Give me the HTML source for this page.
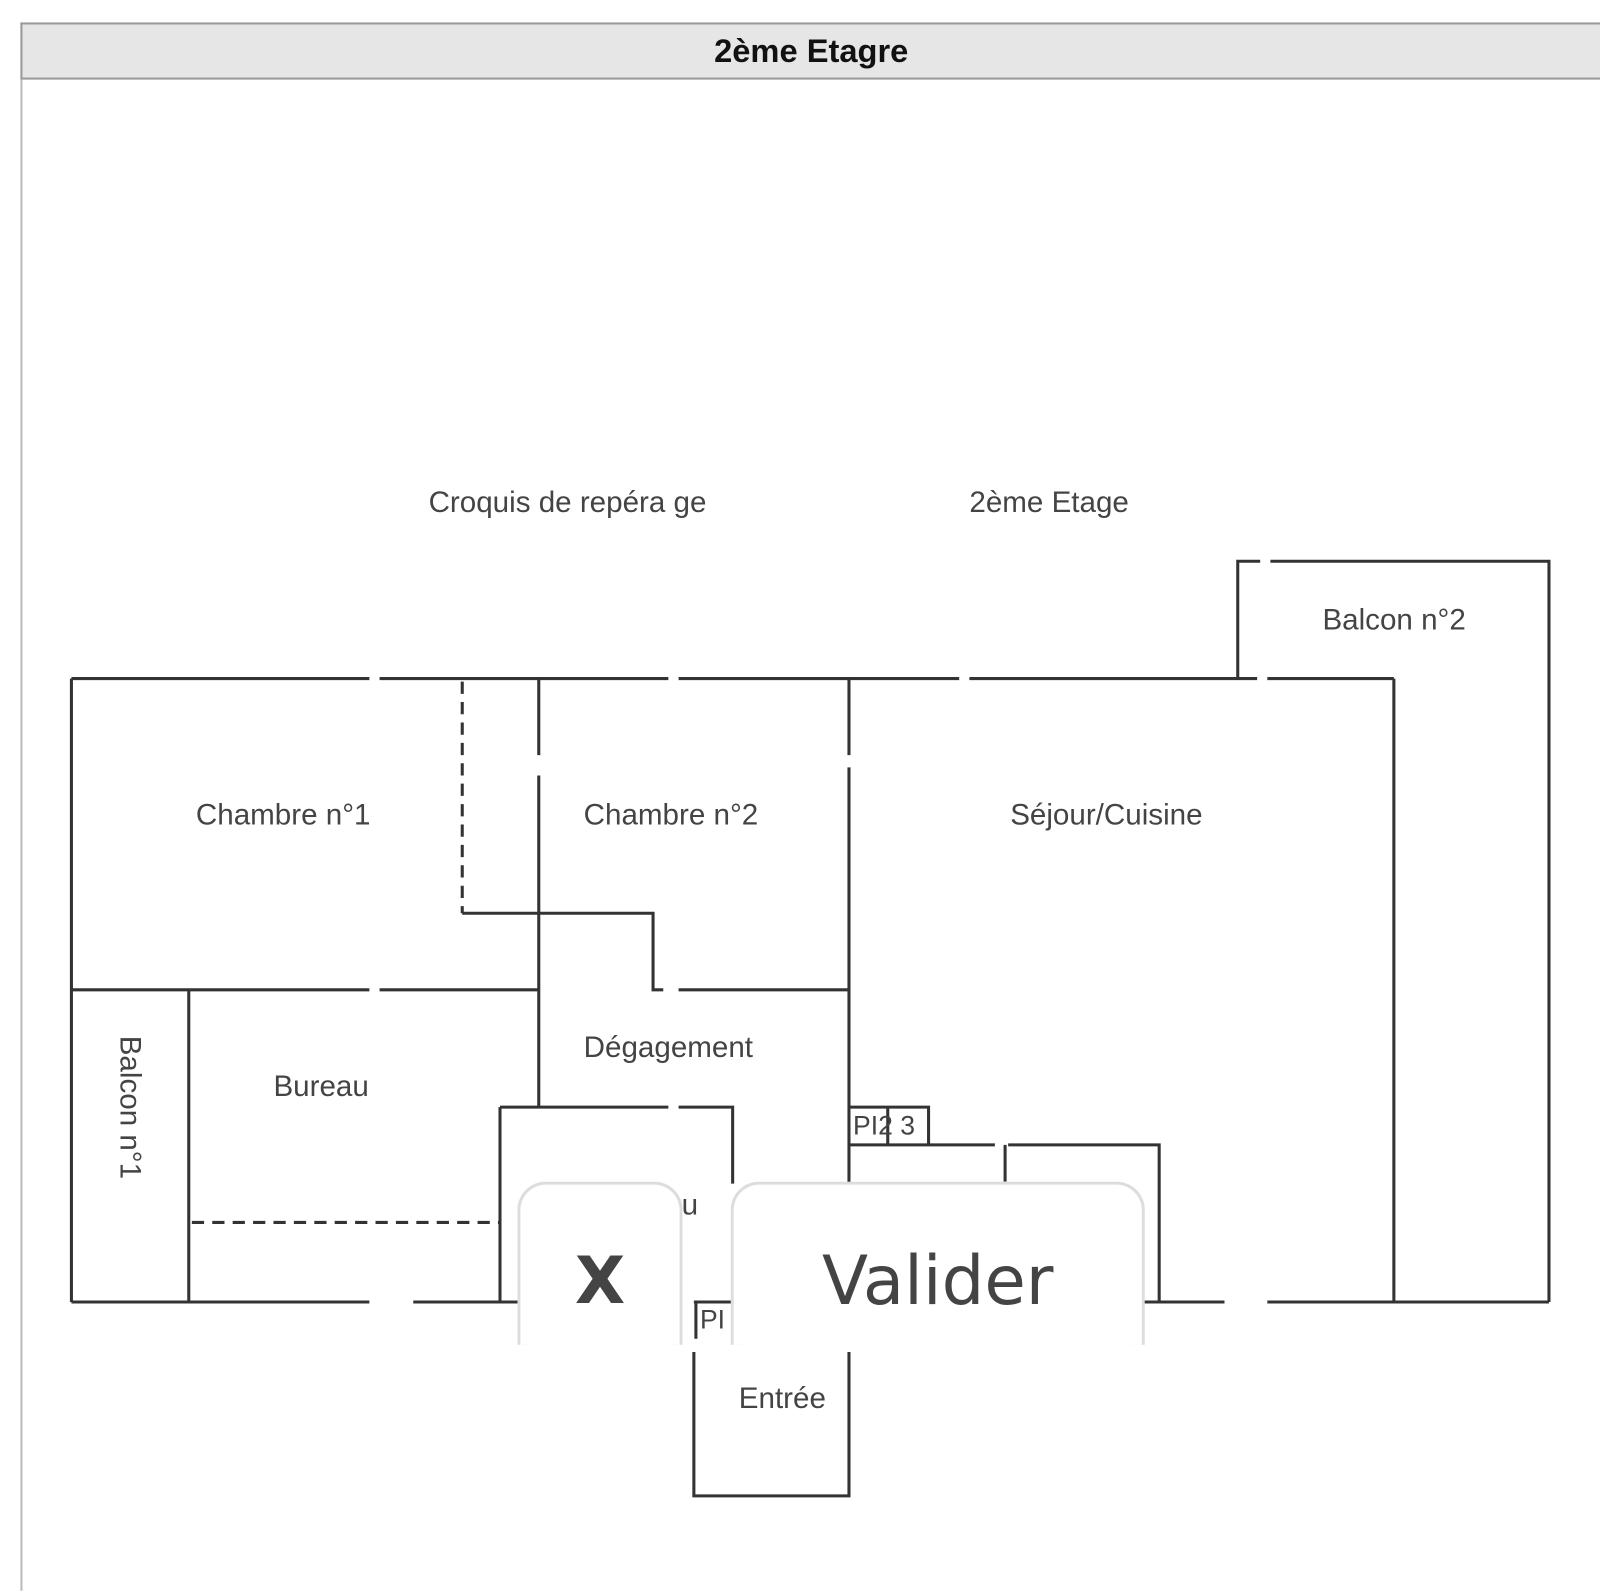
<!DOCTYPE html>
<html><head><meta charset="utf-8"><style>
html,body{margin:0;padding:0;background:#fff;width:1600px;height:1591px;overflow:hidden;font-family:"Liberation Sans",sans-serif}
#wrap{position:absolute;left:0;top:0;width:1568px;height:1559px;transform:scale(1.0204);transform-origin:0 0}
.hdr{position:absolute;left:20px;top:22px;width:1548px;height:56px;background:#e6e6e6;border:2px solid #999;border-right:none;box-sizing:border-box;text-align:center;font-weight:bold;font-size:32px;line-height:52px;color:#111}
.frame{position:absolute;left:20px;top:78px;width:2px;height:1481px;background:#bbb}
.btn{position:absolute;top:1158px;height:160px;border:3px solid #ddd;border-bottom:none;border-radius:28px 28px 0 0;background:#fff;box-sizing:border-box;text-align:center;color:#444;font-family:"DejaVu Sans",sans-serif}
</style></head><body><div id="wrap">
<div class="hdr">2ème Etagre</div>
<div class="frame"></div>
<svg width="1568" height="1559" style="position:absolute;left:0;top:0" font-family="Liberation Sans, sans-serif">
<g stroke="#333" stroke-width="3" fill="none">
<path d="M70 665H362M372 665H655M665 665H940M950 665H1232M1242 665H1366"/>
<path d="M70 665V1276M1366 665V1276"/>
<path d="M70 1276H362M405 1276H510M1120 1276H1200M1242 1276H1518"/>
<path d="M1213 665V550H1235M1245 550H1518V1276"/>
<path d="M528 665V740M528 760V1085"/>
<path d="M453 895H640V970H650M665 970H832"/>
<path d="M70 970H362M372 970H528"/>
<path d="M832 665V740M832 752V1160"/>
<path d="M185 970V1276"/>
<path d="M490 1085H655M665 1085H718V1160"/>
<path d="M490 1085V1276"/>
<path d="M832 1085H910V1122M870 1085V1122"/>
<path d="M832 1122H975M988 1122H1136V1276M985 1122V1158"/>
<path d="M680 1325V1466H832V1325"/>
<path d="M680 1276H717M682 1276V1312"/>
</g>
<g stroke="#333" stroke-width="3" stroke-dasharray="12,8" fill="none">
<path d="M453 668V895"/>
<path d="M188 1198H490"/>
</g>
<g fill="#444" font-size="29">
<text x="420" y="502">Croquis de repéra ge</text>
<text x="950" y="502">2ème Etage</text>
<text x="1296" y="617">Balcon n°2</text>
<text x="192" y="808">Chambre n°1</text>
<text x="572" y="808">Chambre n°2</text>
<text x="990" y="808">Séjour/Cuisine</text>
<text x="572" y="1036">Dégagement</text>
<text x="268" y="1074">Bureau</text>
<text x="724" y="1380">Entrée</text>
<text x="668" y="1190">u</text>
<text x="836" y="1112" font-size="26">PI2 3</text>
<text x="686" y="1302" font-size="26">PI</text>
<text transform="translate(118,1015) rotate(90)">Balcon n°1</text>
</g>
</svg>
<div class="btn" style="left:507px;width:162px;font-size:64px;font-weight:bold;line-height:190px">X</div>
<div class="btn" style="left:716px;width:406px;font-size:66px;line-height:190px">Valider</div>
</div></body></html>
